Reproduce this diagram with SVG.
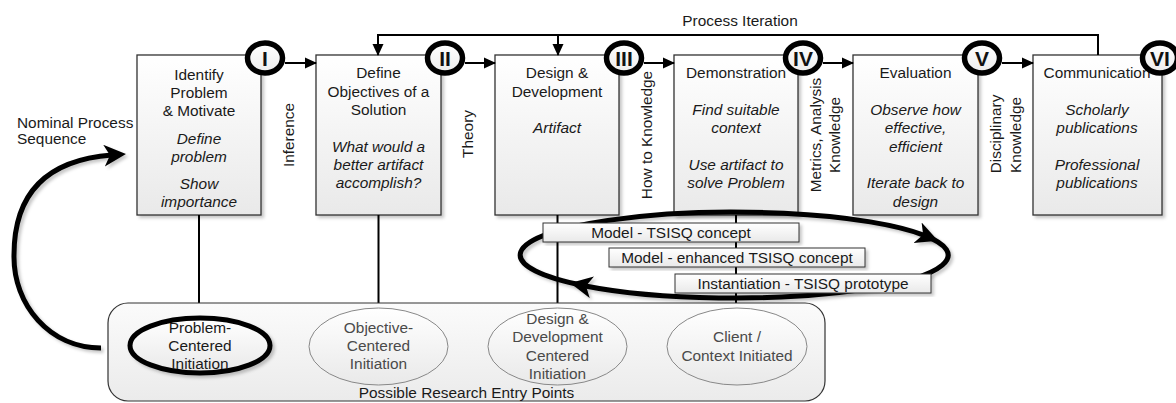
<svg xmlns="http://www.w3.org/2000/svg" width="1176" height="403" viewBox="0 0 1176 403">
<defs>
<style>
.t{font-family:"Liberation Sans",Arial,sans-serif;font-size:15.4px;fill:#1a1a1a;text-anchor:middle}
.i{font-style:italic}
.g{fill:#4a4a4a}
.rn{font-weight:bold;font-size:21px;fill:#111}
.box{fill:url(#gb);stroke:#333;stroke-width:1.3;filter:url(#sh)}
.lbl{fill:url(#gb);stroke:#333;stroke-width:1;filter:url(#sh)}
.num{fill:url(#gc);stroke:#000;stroke-width:5.5}
.ln{fill:none;stroke:#000;stroke-width:2}
.thick{fill:none;stroke:#000;stroke-width:5;filter:url(#sh)}
.ell{fill:url(#gb);stroke:#888;stroke-width:1}
</style>
<linearGradient id="gb" x1="0" y1="0" x2="0" y2="1"><stop offset="0" stop-color="#ffffff"/><stop offset="1" stop-color="#e9e9e9"/></linearGradient>
<linearGradient id="gc" x1="0" y1="0" x2="0" y2="1"><stop offset="0" stop-color="#ffffff"/><stop offset="1" stop-color="#ededed"/></linearGradient>
<linearGradient id="gk" x1="0" y1="0" x2="0" y2="1"><stop offset="0" stop-color="#fbfbfb"/><stop offset="1" stop-color="#ebebeb"/></linearGradient>
<filter id="sh" x="-10%" y="-10%" width="130%" height="130%"><feDropShadow dx="2.5" dy="2.5" stdDeviation="1.5" flood-color="#000" flood-opacity="0.22"/></filter>
<marker id="ah" markerWidth="12" markerHeight="12" refX="11" refY="6" orient="auto" markerUnits="userSpaceOnUse"><path d="M0,0.5 L12,6 L0,11.5 Z" fill="#000"/></marker>
<marker id="bh" markerWidth="24" markerHeight="24" refX="8" refY="11" orient="auto" markerUnits="userSpaceOnUse"><path d="M0,0 L22,11 L0,22 L6,11 Z" fill="#000"/></marker>
</defs>
<rect width="1176" height="403" fill="#fff"/>

<g id="n1">
<rect class="box" x="137" y="55" width="124" height="160"/>
<text class="t" x="199" y="80">Identify</text>
<text class="t" x="199" y="98">Problem</text>
<text class="t" x="199" y="116">&amp; Motivate</text>
<text class="t i" x="199" y="144">Define</text>
<text class="t i" x="199" y="162">problem</text>
<text class="t i" x="199" y="189">Show</text>
<text class="t i" x="199" y="207">importance</text>
</g>
<g id="n2">
<rect class="box" x="316" y="55" width="125" height="160"/>
<text class="t" x="378.5" y="78">Define</text>
<text class="t" x="378.5" y="97">Objectives of a</text>
<text class="t" x="378.5" y="115">Solution</text>
<text class="t i" x="378.5" y="152">What would a</text>
<text class="t i" x="378.5" y="170">better artifact</text>
<text class="t i" x="378.5" y="188">accomplish?</text>
</g>
<g id="n3">
<rect class="box" x="495" y="55" width="124" height="160"/>
<text class="t" x="557" y="78">Design &amp;</text>
<text class="t" x="557" y="97">Development</text>
<text class="t i" x="557" y="133">Artifact</text>
</g>
<g id="n4">
<rect class="box" x="674" y="55" width="124" height="160"/>
<text class="t" x="736" y="78">Demonstration</text>
<text class="t i" x="736" y="115">Find suitable</text>
<text class="t i" x="736" y="133">context</text>
<text class="t i" x="736" y="170">Use artifact to</text>
<text class="t i" x="736" y="188">solve Problem</text>
</g>
<g id="n5">
<rect class="box" x="853" y="55" width="125" height="160"/>
<text class="t" x="915.5" y="78">Evaluation</text>
<text class="t i" x="915.5" y="115">Observe how</text>
<text class="t i" x="915.5" y="133">effective,</text>
<text class="t i" x="915.5" y="152">efficient</text>
<text class="t i" x="915.5" y="188">Iterate back to</text>
<text class="t i" x="915.5" y="207">design</text>
</g>
<g id="n6">
<rect class="box" x="1033" y="55" width="129" height="160"/>
<text class="t" x="1097" y="78">Communication</text>
<text class="t i" x="1097" y="115">Scholarly</text>
<text class="t i" x="1097" y="133">publications</text>
<text class="t i" x="1097" y="170">Professional</text>
<text class="t i" x="1097" y="188">publications</text>
</g>

<g id="connectors">
<path class="ln" d="M1098,55 V35 H378 V55" marker-end="url(#ah)"/>
<path class="ln" d="M558,35 V55" marker-end="url(#ah)"/>
<path class="ln" d="M285,63 H316" marker-end="url(#ah)"/>
<path class="ln" d="M465,63 H495" marker-end="url(#ah)"/>
<path class="ln" d="M644,63 H674" marker-end="url(#ah)"/>
<path class="ln" d="M823,63 H853" marker-end="url(#ah)"/>
<path class="ln" d="M1002,63 H1033" marker-end="url(#ah)"/>
<path class="ln" d="M199,215 V303 M378.5,215 V303 M557.5,215 V303 M736,215 V303"/>
<path class="thick" d="M584,285.7 A214,43 0 1 1 925,235.6" marker-end="url(#bh)"/>
<path class="thick" d="M925,235.6 A214,43 0 0 1 584,285.7" marker-end="url(#bh)"/>
<path class="thick" d="M101,348 C50,348 13,305 14,255 C14,195 45,160 112,155" marker-end="url(#bh)"/>
</g>

<g id="c1"><ellipse class="num" cx="265" cy="58" rx="17.5" ry="15"/><text class="t rn" x="265" y="65.5">I</text></g>
<g id="c2"><ellipse class="num" cx="445" cy="58" rx="17.5" ry="15"/><text class="t rn" x="445" y="65.5">II</text></g>
<g id="c3"><ellipse class="num" cx="624" cy="58" rx="17.5" ry="15"/><text class="t rn" x="624" y="65.5">III</text></g>
<g id="c4"><ellipse class="num" cx="803" cy="58" rx="17.5" ry="15"/><text class="t rn" x="803" y="65.5">IV</text></g>
<g id="c5"><ellipse class="num" cx="982" cy="58" rx="17.5" ry="15"/><text class="t rn" x="982" y="65.5">V</text></g>
<g id="c6"><ellipse class="num" cx="1160" cy="58" rx="17.5" ry="15"/><text class="t rn" x="1160" y="65.5">VI</text></g>

<g id="edge-labels">
<text class="t" x="740" y="26">Process Iteration</text>
<text class="t" x="17" y="128" style="text-anchor:start">Nominal Process</text>
<text class="t" x="17" y="144" style="text-anchor:start">Sequence</text>
<text class="t" transform="translate(294,135) rotate(-90)">Inference</text>
<text class="t" transform="translate(473,134) rotate(-90)">Theory</text>
<text class="t" transform="translate(652,135) rotate(-90)">How to Knowledge</text>
<text class="t" transform="translate(821,135) rotate(-90)">Metrics, Analysis</text>
<text class="t" transform="translate(840,135) rotate(-90)">Knowledge</text>
<text class="t" transform="translate(1001,134) rotate(-90)">Disciplinary</text>
<text class="t" transform="translate(1021,135) rotate(-90)">Knowledge</text>
</g>

<g id="tsisq1"><rect class="lbl" x="543" y="223" width="256" height="19"/><text class="t" x="671" y="237.5">Model - TSISQ concept</text></g>
<g id="tsisq2"><rect class="lbl" x="609" y="248" width="256" height="19"/><text class="t" x="737" y="262.5">Model - enhanced TSISQ concept</text></g>
<g id="tsisq3"><rect class="lbl" x="675" y="274" width="256" height="19"/><text class="t" x="803" y="288.5">Instantiation - TSISQ prototype</text></g>

<g id="entry-points">
<rect x="108" y="303" width="717" height="98" rx="20" fill="url(#gk)" stroke="#333" stroke-width="1.2"/>
<text class="t" x="466.5" y="398">Possible Research Entry Points</text>
</g>
<g id="e1">
<ellipse cx="200" cy="345.5" rx="70" ry="27.5" fill="url(#gb)" stroke="#000" stroke-width="5" filter="url(#sh)"/>
<text class="t" x="200" y="333">Problem-</text>
<text class="t" x="200" y="351">Centered</text>
<text class="t" x="200" y="368.5">Initiation</text>
</g>
<g id="e2">
<ellipse class="ell" cx="378.5" cy="346.5" rx="69.5" ry="38.5"/>
<text class="t g" x="378.5" y="333">Objective-</text>
<text class="t g" x="378.5" y="351">Centered</text>
<text class="t g" x="378.5" y="369">Initiation</text>
</g>
<g id="e3">
<ellipse class="ell" cx="557.5" cy="346.5" rx="69.5" ry="38.5"/>
<text class="t g" x="557.5" y="324">Design &amp;</text>
<text class="t g" x="557.5" y="342">Development</text>
<text class="t g" x="557.5" y="360.5">Centered</text>
<text class="t g" x="557.5" y="379">Initiation</text>
</g>
<g id="e4">
<ellipse class="ell" cx="737" cy="346.5" rx="70" ry="38.5"/>
<text class="t g" x="737" y="342">Client /</text>
<text class="t g" x="737" y="361">Context Initiated</text>
</g>
</svg>
